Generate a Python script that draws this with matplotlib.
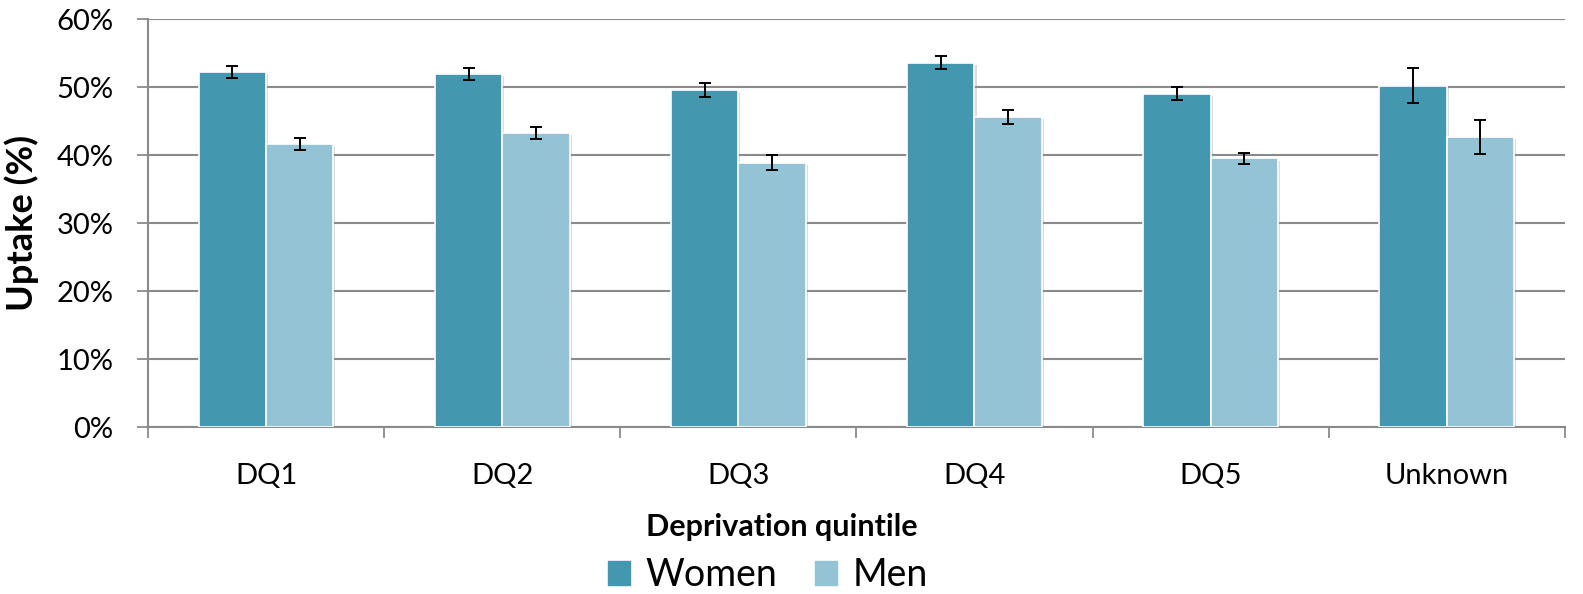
import matplotlib
matplotlib.use("Agg")
import matplotlib.pyplot as plt
import matplotlib.patheffects as pe
from matplotlib.patches import Patch
import numpy as np

categories = ["DQ1", "DQ2", "DQ3", "DQ4", "DQ5", "Unknown"]
women = [52.2, 51.9, 49.6, 53.6, 49.0, 50.2]
women_err = [0.9, 0.9, 1.0, 0.95, 0.95, 2.6]
men = [41.6, 43.2, 38.9, 45.6, 39.5, 42.7]
men_err = [0.9, 0.9, 1.05, 1.0, 0.85, 2.5]

women_color = "#4397AE"
men_color = "#93C3D5"
grid_color = "#8A8A8A"

plt.rcParams["font.family"] = ["Lato", "DejaVu Sans"]

fig = plt.figure(figsize=(15.83, 5.94), dpi=100)
ax = fig.add_axes([0.0935, 0.281, 0.895, 0.687])

x = np.arange(len(categories))
w = 0.285
shadow = [pe.SimplePatchShadow(offset=(1.5, -1.5), shadow_rgbFace="0.6", alpha=0.35), pe.Normal()]

bw = ax.bar(x - w / 2, women, w, color=women_color, edgecolor="white", linewidth=1.2,
            label="Women", zorder=3)
bm = ax.bar(x + w / 2, men, w, color=men_color, edgecolor="white", linewidth=1.2,
            label="Men", zorder=3)
for b in list(bw) + list(bm):
    b.set_path_effects(shadow)

err_kw = dict(fmt="none", ecolor="black", elinewidth=1.4, capsize=4.5, capthick=1.4, zorder=4)
ax.errorbar(x - w / 2, women, yerr=women_err, **err_kw)
ax.errorbar(x + w / 2, men, yerr=men_err, **err_kw)

ax.set_xlim(-0.5, len(categories) - 0.5)
ax.set_ylim(0, 60)
ax.set_yticks(np.arange(0, 61, 10))
ax.set_yticklabels([f"{v}%" for v in range(0, 61, 10)], fontsize=21)
ax.yaxis.grid(True, color=grid_color, linewidth=1.5, zorder=0)
ax.set_axisbelow(True)

ax.set_xticks(x)
ax.set_xticklabels(categories, fontsize=21)
ax.tick_params(axis="x", which="major", length=0, pad=26)
ax.set_xticks(np.arange(-0.5, len(categories), 1.0), minor=True)
ax.tick_params(axis="x", which="minor", length=8, width=1.3, color=grid_color, direction="out")
ax.tick_params(axis="y", length=8, width=1.3, color=grid_color, direction="out", pad=17)

for s in ["top", "right"]:
    ax.spines[s].set_visible(False)
for s in ["left", "bottom"]:
    ax.spines[s].set_color(grid_color)
    ax.spines[s].set_linewidth(1.5)

ax.set_ylabel("Uptake (%)", fontsize=26, fontweight="bold")
ax.yaxis.set_label_coords(-0.077, 0.5)
ax.set_xlabel("Deprivation quintile", fontsize=22, fontweight="bold")
ax.xaxis.set_label_coords(0.447, -0.21)

fig.legend(handles=[Patch(color=women_color, label="Women"), Patch(color=men_color, label="Men")],
           loc="center", bbox_to_anchor=(0.485, 0.032), ncol=2, frameon=False,
           fontsize=27, handlelength=0.6, handleheight=0.6, handletextpad=0.4,
           columnspacing=1.0)

fig.savefig("out.png", dpi=100)
